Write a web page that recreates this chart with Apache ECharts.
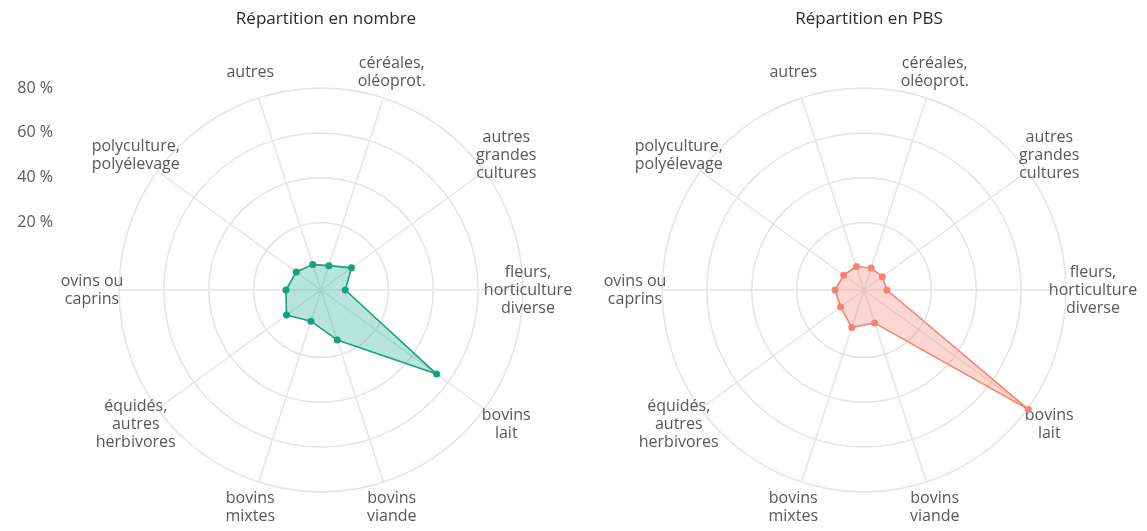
<!DOCTYPE html>
<html>
<head>
<meta charset="utf-8">
<script src="https://cdn.jsdelivr.net/npm/echarts@6/dist/echarts.min.js"></script>
<style>
html,body{margin:0;padding:0;background:#fff;}
#chart{width:1147px;height:531px;}
</style>
</head>
<body>
<div id="chart"></div>
<script>
// Categories (radar indicators, counter-clockwise starting at "céréales")
const categories = [
  'céréales,\noléoprot.',
  'autres',
  'polyculture,\npolyélevage',
  'ovins ou\ncaprins',
  'équidés,\nautres\nherbivores',
  'bovins\nmixtes',
  'bovins\nviande',
  'bovins\nlait',
  'fleurs,\nhorticulture\ndiverse',
  'autres\ngrandes\ncultures'
];
// Share (%) of farms by number
const valuesNombre = [1.4, 1.9, 3.6, 5.6, 9.0, 4.6, 13.4, 53.7, 0.8, 6.8];
// Share (%) of standard gross production (PBS)
const valuesPBS = [0.3, 1.0, 1.2, 2.9, 2.9, 7.6, 5.5, 80.5, 0.2, 0.1];
// Chart titles
const titles = ['Répartition en nombre', 'Répartition en PBS'];
// Scale tick values and labels
const tickValues = [20, 40, 60, 80];
const tickLabels = ['20 %', '40 %', '60 %', '80 %'];
const scaleMin = -10, scaleMax = 80;

const ringGray = '#e4e4e4';
const textGray = '#585858';
const FONT = 'Open Sans';
const LABEL_SIZE = 16;

// split line colours: ticks at -10,0,10,...,80 -> draw only 20,40,60,80
const splitColors = [];
for (let v = scaleMin; v <= scaleMax; v += 10) {
  splitColors.push(tickValues.indexOf(v) >= 0 ? ringGray : 'rgba(0,0,0,0)');
}

function makeRadar(cx, shiftLast) {
  return {
    center: [cx, 290],
    radius: 202,
    startAngle: 72,
    shape: 'circle',
    splitNumber: 9,
    nameGap: 27,
    indicator: categories.map(n => ({ name: n, min: scaleMin, max: scaleMax })),
    axisName: {
      color: textGray,
      fontFamily: FONT,
      fontSize: LABEL_SIZE,
      lineHeight: 18,
      align: 'center',
      verticalAlign: 'middle',
      formatter: function (name) {
        if (shiftLast && name.indexOf('horticulture') >= 0) {
          return name.split('\n').map(s => '{s|' + s + '}').join('\n');
        }
        return name;
      },
      rich: {
        s: { color: textGray, fontFamily: FONT, fontSize: LABEL_SIZE, lineHeight: 18,
             padding: [0, 44, 0, 0] }
      }
    },
    axisLine: { lineStyle: { color: ringGray, width: 1.5 } },
    axisTick: { show: false },
    axisLabel: { show: false },
    splitLine: { lineStyle: { color: splitColors, width: 1.5 } },
    splitArea: { show: false }
  };
}

const option = {
  backgroundColor: '#ffffff',
  animation: false,
  textStyle: { fontFamily: FONT },
  title: [
    { text: titles[0], left: 321, top: 6, textAlign: 'center',
      textStyle: { fontFamily: FONT, fontSize: 17, fontWeight: 500, color: '#2a2a2a' } },
    { text: titles[1], left: 864, top: 6, textAlign: 'center',
      textStyle: { fontFamily: FONT, fontSize: 17, fontWeight: 500, color: '#2a2a2a' } }
  ],
  grid: { left: 61, top: 88, width: 1, height: 179.6 },
  xAxis: { type: 'value', show: false, min: 0, max: 1 },
  yAxis: {
    type: 'value', min: 0, max: 80, interval: 20,
    axisLine: { show: false }, axisTick: { show: false }, splitLine: { show: false },
    axisLabel: {
      showMinLabel: false,
      margin: 8,
      color: textGray, fontFamily: FONT, fontSize: 16,
      formatter: v => { const i = tickValues.indexOf(v); return i >= 0 ? tickLabels[i] : ''; }
    }
  },
  radar: [makeRadar(321, true), makeRadar(864, false)],
  series: [
    {
      type: 'radar', radarIndex: 0,
      symbol: 'circle', symbolSize: 7,
      itemStyle: { color: '#15a07e' },
      lineStyle: { color: '#15a07e', width: 1.6 },
      areaStyle: { color: 'rgba(28,172,136,0.45)' },
      data: [{ value: valuesNombre, name: titles[0] }]
    },
    {
      type: 'radar', radarIndex: 1,
      symbol: 'circle', symbolSize: 7,
      itemStyle: { color: '#f5846f' },
      lineStyle: { color: '#f5846f', width: 1.6 },
      areaStyle: { color: 'rgba(245,132,111,0.47)' },
      data: [{ value: valuesPBS, name: titles[1] }]
    }
  ]
};

const chart = echarts.init(document.getElementById('chart'), null, { renderer: 'canvas' });
chart.setOption(option);
</script>
</body>
</html>
